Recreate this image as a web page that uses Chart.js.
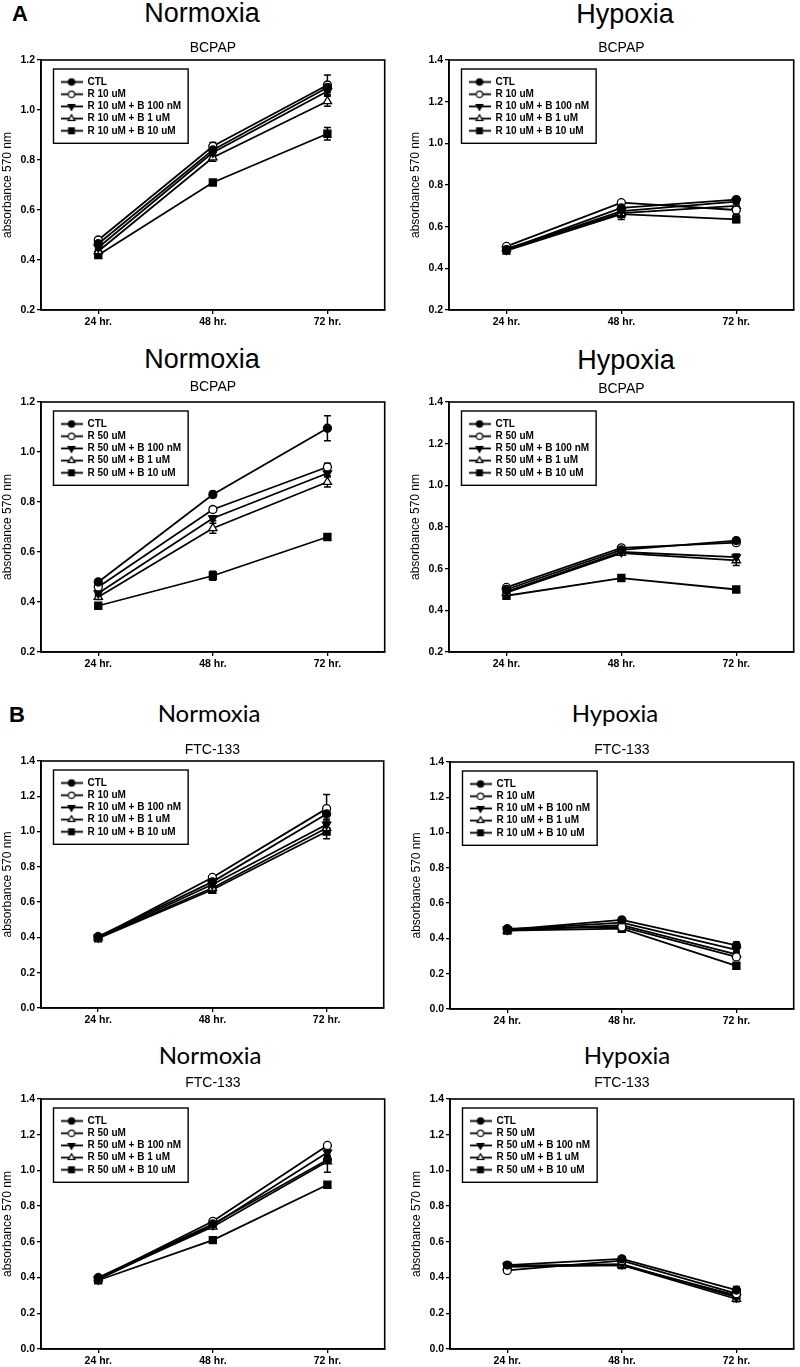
<!DOCTYPE html>
<html>
<head>
<meta charset="utf-8">
<script src="https://cdn.jsdelivr.net/npm/chart.js@4.4.1/dist/chart.umd.min.js"></script>
<style>
html,body{margin:0;padding:0;background:#fff;}
#page{position:relative;width:800px;height:1367px;overflow:hidden;background:#fff;}
#page canvas{position:absolute;}
.hdr{position:absolute;width:300px;text-align:center;line-height:1;white-space:nowrap;color:#000;}
.hdrA{font-family:'Liberation Sans',Arial,sans-serif;font-size:27px;}
.hdrB{font-family:Lato,'Open Sans',sans-serif;font-size:24px;}
.lab{position:absolute;line-height:1;font-weight:bold;font-size:22px;font-family:'Liberation Sans',Arial,sans-serif;color:#000;}
</style>
</head>
<body>
<div id="page"></div>
<script>
// ---------------- DATA ----------------
const timePoints = ['24 hr.', '48 hr.', '72 hr.'];
const seriesR10 = ['CTL', 'R 10 uM', 'R 10 uM + B 100 nM', 'R 10 uM + B 1 uM', 'R 10 uM + B 10 uM'];
const seriesR50 = ['CTL', 'R 50 uM', 'R 50 uM + B 100 nM', 'R 50 uM + B 1 uM', 'R 50 uM + B 10 uM'];
const yAxisTitle = 'absorbance 570 nm';

const yRangeBcpapNorm = [0.2, 1.2];
const yRangeBcpapHypo = [0.2, 1.4];
const yRangeFtc = [0.0, 1.4];
const yStep = 0.2;

// BCPAP, normoxia, R 10 uM (rows: series, cols: time points)
const bcpapNormR10 = [
  [0.465, 0.84, 1.09],
  [0.48, 0.855, 1.10],
  [0.45, 0.83, 1.075],
  [0.435, 0.81, 1.035],
  [0.42, 0.71, 0.905]
];
const bcpapNormR10Err = [
  [0.01, 0.01, 0.02],
  [0.01, 0.015, 0.04],
  [0.01, 0.01, 0.015],
  [0.01, 0.015, 0.02],
  [0.01, 0.01, 0.025]
];
// BCPAP, hypoxia, R 10 uM
const bcpapHypoR10 = [
  [0.49, 0.69, 0.73],
  [0.505, 0.715, 0.68],
  [0.49, 0.675, 0.72],
  [0.495, 0.665, 0.70],
  [0.485, 0.66, 0.635]
];
const bcpapHypoR10Err = [
  [0.01, 0.01, 0.01],
  [0.01, 0.01, 0.02],
  [0.01, 0.01, 0.01],
  [0.01, 0.02, 0.015],
  [0.01, 0.025, 0.015]
];
// BCPAP, normoxia, R 50 uM
const bcpapNormR50 = [
  [0.48, 0.83, 1.095],
  [0.46, 0.77, 0.94],
  [0.435, 0.735, 0.915],
  [0.42, 0.695, 0.88],
  [0.385, 0.505, 0.66]
];
const bcpapNormR50Err = [
  [0.01, 0.012, 0.05],
  [0.01, 0.01, 0.015],
  [0.01, 0.01, 0.01],
  [0.01, 0.02, 0.02],
  [0.01, 0.018, 0.008]
];
// BCPAP, hypoxia, R 50 uM
const bcpapHypoR50 = [
  [0.50, 0.69, 0.735],
  [0.51, 0.70, 0.725],
  [0.49, 0.68, 0.655],
  [0.485, 0.675, 0.64],
  [0.47, 0.555, 0.50]
];
const bcpapHypoR50Err = [
  [0.01, 0.01, 0.01],
  [0.01, 0.01, 0.01],
  [0.01, 0.01, 0.015],
  [0.01, 0.01, 0.025],
  [0.01, 0.01, 0.008]
];
// FTC-133, normoxia, R 10 uM
const ftcNormR10 = [
  [0.405, 0.715, 1.10],
  [0.40, 0.74, 1.13],
  [0.40, 0.70, 1.04],
  [0.40, 0.68, 1.02],
  [0.395, 0.67, 1.00]
];
const ftcNormR10Err = [
  [0.01, 0.01, 0.03],
  [0.01, 0.01, 0.08],
  [0.01, 0.01, 0.02],
  [0.01, 0.03, 0.03],
  [0.01, 0.02, 0.04]
];
// FTC-133, hypoxia, R 10 uM
const ftcHypoR10 = [
  [0.45, 0.505, 0.36],
  [0.455, 0.465, 0.295],
  [0.45, 0.49, 0.335],
  [0.445, 0.475, 0.31],
  [0.445, 0.455, 0.245]
];
const ftcHypoR10Err = [
  [0.01, 0.01, 0.02],
  [0.01, 0.01, 0.015],
  [0.01, 0.01, 0.015],
  [0.01, 0.01, 0.015],
  [0.01, 0.01, 0.015]
];
// FTC-133, normoxia, R 50 uM
const ftcNormR50 = [
  [0.40, 0.70, 1.06],
  [0.395, 0.715, 1.14],
  [0.39, 0.695, 1.10],
  [0.395, 0.685, 1.05],
  [0.385, 0.61, 0.92]
];
const ftcNormR50Err = [
  [0.01, 0.01, 0.02],
  [0.01, 0.01, 0.01],
  [0.01, 0.01, 0.015],
  [0.01, 0.01, 0.06],
  [0.01, 0.01, 0.01]
];
// FTC-133, hypoxia, R 50 uM
const ftcHypoR50 = [
  [0.47, 0.505, 0.33],
  [0.44, 0.495, 0.31],
  [0.465, 0.475, 0.29],
  [0.46, 0.47, 0.28],
  [0.465, 0.47, 0.30]
];
const ftcHypoR50Err = [
  [0.01, 0.01, 0.02],
  [0.01, 0.01, 0.015],
  [0.01, 0.01, 0.015],
  [0.01, 0.01, 0.015],
  [0.01, 0.01, 0.015]
];

// ---------------- LAYOUT / STYLE ----------------
Chart.defaults.font.family = "'Liberation Sans', Arial, Helvetica, sans-serif";
Chart.defaults.color = '#000';

const page = document.getElementById('page');

const SHAPES = [
  {pointStyle: 'circle', rotation: 0, fill: '#000', r: 4.0},
  {pointStyle: 'circle', rotation: 0, fill: '#fff', r: 4.0},
  {pointStyle: 'triangle', rotation: 180, fill: '#000', r: 4.8},
  {pointStyle: 'triangle', rotation: 0, fill: '#fff', r: 4.8},
  {pointStyle: 'rect', rotation: 0, fill: '#000', r: 5.0}
];

const SYM_W = 22;
function makeSymbol(s) {
  const c = document.createElement('canvas');
  c.width = SYM_W; c.height = 11;
  const g = c.getContext('2d');
  g.strokeStyle = '#000'; g.lineWidth = 1.8;
  g.beginPath(); g.moveTo(0, 5.5); g.lineTo(SYM_W, 5.5); g.stroke();
  g.fillStyle = s.fill; g.lineWidth = 1.2;
  Chart.helpers.drawPoint(g, {pointStyle: s.pointStyle, rotation: s.rotation, radius: s.r * 0.8, borderWidth: 1.2}, SYM_W / 2, 5.5);
  return c;
}
const legendSymbols = SHAPES.map(makeSymbol);

const LEG = {boxDx: 12.5, boxDy: 9, symDx: 19.5, firstDy: 22, font: 10, pad: 2.2};

const errorBars = {
  id: 'errorBars',
  beforeDatasetsDraw(chart) {
    const ctx = chart.ctx, ys = chart.scales.y;
    chart.data.datasets.forEach((ds, di) => {
      const meta = chart.getDatasetMeta(di);
      (ds.errors || []).forEach((e, i) => {
        const pt = meta.data[i];
        if (!pt || !e) return;
        const v = ds.data[i];
        const y1 = ys.getPixelForValue(v + e), y2 = ys.getPixelForValue(v - e);
        ctx.save();
        ctx.strokeStyle = '#000'; ctx.lineWidth = 1.5;
        ctx.beginPath();
        ctx.moveTo(pt.x, y1); ctx.lineTo(pt.x, y2);
        ctx.moveTo(pt.x - 3.5, y1); ctx.lineTo(pt.x + 3.5, y1);
        ctx.moveTo(pt.x - 3.5, y2); ctx.lineTo(pt.x + 3.5, y2);
        ctx.stroke();
        ctx.restore();
      });
    });
  }
};

const frameAndLegend = {
  id: 'frameAndLegend',
  afterLayout(chart) {
    const lg = chart.legend, ca = chart.chartArea;
    if (!lg) return;
    lg.left = ca.left + LEG.symDx - LEG.pad;
    lg.top = ca.top + LEG.firstDy - LEG.font / 2 - LEG.pad;
    lg.right = ca.right; lg.bottom = ca.bottom;
    lg.width = lg.right - lg.left; lg.height = lg.bottom - lg.top;
  },
  beforeDatasetsDraw(chart) {
    const ctx = chart.ctx, ca = chart.chartArea;
    ctx.save();
    ctx.strokeStyle = '#000';
    ctx.lineWidth = 1.6;
    ctx.strokeRect(ca.left, ca.top, ca.right - ca.left, ca.bottom - ca.top);
    ctx.font = 'bold ' + LEG.font + "px 'Liberation Sans', Arial, sans-serif";
    const maxW = Math.max(...chart.data.datasets.map(d => ctx.measureText(d.label).width));
    const n = chart.data.datasets.length;
    const left = ca.left + LEG.boxDx, top = ca.top + LEG.boxDy;
    const right = ca.left + LEG.symDx + SYM_W + LEG.font / 2 + maxW + 7;
    const bottom = ca.top + LEG.firstDy + (n - 1) * (LEG.font + LEG.pad) + 12.5;
    ctx.lineWidth = 1.4;
    ctx.strokeRect(left, top, right - left, bottom - top);
    ctx.restore();
  }
};

const panels = [
  {values: bcpapNormR10, errors: bcpapNormR10Err, names: seriesR10, cell: 'BCPAP', range: yRangeBcpapNorm, L: 41, R: 388, T: 60, B: 310, sub: 48.3},
  {values: bcpapHypoR10, errors: bcpapHypoR10Err, names: seriesR10, cell: 'BCPAP', range: yRangeBcpapHypo, L: 449, R: 797, T: 60, B: 310, sub: 48.5},
  {values: bcpapNormR50, errors: bcpapNormR50Err, names: seriesR50, cell: 'BCPAP', range: yRangeBcpapNorm, L: 41, R: 388, T: 402, B: 652, sub: 387},
  {values: bcpapHypoR50, errors: bcpapHypoR50Err, names: seriesR50, cell: 'BCPAP', range: yRangeBcpapHypo, L: 449, R: 797, T: 402, B: 652, sub: 389},
  {values: ftcNormR10, errors: ftcNormR10Err, names: seriesR10, cell: 'FTC-133', range: yRangeFtc, L: 41, R: 387, T: 761, B: 1008, sub: 750},
  {values: ftcHypoR10, errors: ftcHypoR10Err, names: seriesR10, cell: 'FTC-133', range: yRangeFtc, L: 450, R: 797, T: 762, B: 1009, sub: 750},
  {values: ftcNormR50, errors: ftcNormR50Err, names: seriesR50, cell: 'FTC-133', range: yRangeFtc, L: 41, R: 388, T: 1099, B: 1349, sub: 1083},
  {values: ftcHypoR50, errors: ftcHypoR50Err, names: seriesR50, cell: 'FTC-133', range: yRangeFtc, L: 450, R: 797, T: 1099, B: 1349, sub: 1083}
];

const headers = [
  {text: 'Normoxia', cls: 'hdrA', cx: 202, cy: 13},
  {text: 'Hypoxia', cls: 'hdrA', cx: 625, cy: 14},
  {text: 'Normoxia', cls: 'hdrA', cx: 202, cy: 359},
  {text: 'Hypoxia', cls: 'hdrA', cx: 626, cy: 360},
  {text: 'Normoxia', cls: 'hdrB', cx: 209, cy: 714},
  {text: 'Hypoxia', cls: 'hdrB', cx: 615, cy: 714},
  {text: 'Normoxia', cls: 'hdrB', cx: 210, cy: 1056},
  {text: 'Hypoxia', cls: 'hdrB', cx: 627, cy: 1056}
];
const letters = [
  {text: 'A', x: 12, cy: 14},
  {text: 'B', x: 9, cy: 715}
];

headers.forEach(h => {
  const d = document.createElement('div');
  d.className = 'hdr ' + h.cls;
  d.textContent = h.text;
  const size = h.cls === 'hdrA' ? 27 : 24;
  const k = h.cls === 'hdrA' ? 0.49 : 0.53;
  d.style.left = (h.cx - 150) + 'px';
  d.style.top = (h.cy - k * size) + 'px';
  page.appendChild(d);
});
letters.forEach(l => {
  const d = document.createElement('div');
  d.className = 'lab';
  d.textContent = l.text;
  d.style.left = l.x + 'px';
  d.style.top = (l.cy - 0.49 * 22) + 'px';
  page.appendChild(d);
});

const Y_AXIS_W = 41, X_AXIS_H = 18, SUB_SIZE = 14, PAD_R = 3;

panels.forEach(p => {
  const cl = p.L - Y_AXIS_W, ct = p.T - 42;
  const cw = p.R - cl + PAD_R, ch = p.B + X_AXIS_H - ct;
  const cv = document.createElement('canvas');
  cv.width = cw; cv.height = ch;
  cv.style.left = cl + 'px'; cv.style.top = ct + 'px';
  cv.style.width = cw + 'px'; cv.style.height = ch + 'px';
  page.appendChild(cv);

  new Chart(cv, {
    type: 'line',
    data: {
      labels: timePoints,
      datasets: p.values.map((row, i) => ({
        label: p.names[i],
        data: row,
        errors: p.errors[i],
        borderColor: '#000',
        borderWidth: 1.8,
        pointStyle: SHAPES[i].pointStyle,
        rotation: SHAPES[i].rotation,
        pointRadius: SHAPES[i].r,
        pointHoverRadius: SHAPES[i].r,
        pointBackgroundColor: SHAPES[i].fill,
        pointBorderColor: '#000',
        pointBorderWidth: 1.3,
        fill: false,
        tension: 0
      }))
    },
    options: {
      responsive: false,
      animation: false,
      devicePixelRatio: 1,
      events: [],
      layout: {padding: {left: 0, right: PAD_R, top: 0, bottom: 0}},
      plugins: {
        tooltip: {enabled: false},
        title: {
          display: true,
          text: p.cell,
          fullSize: false,
          color: '#000',
          font: {size: SUB_SIZE, weight: 'normal', lineHeight: 1},
          padding: {top: p.sub - ct - SUB_SIZE / 2, bottom: p.T - p.sub - SUB_SIZE / 2}
        },
        legend: {
          position: 'chartArea',
          align: 'start',
          labels: {
            usePointStyle: true,
            pointStyleWidth: SYM_W,
            padding: LEG.pad,
            color: '#000',
            font: {size: LEG.font, weight: 'bold'},
            generateLabels: chart => chart.data.datasets.map((ds, i) => ({
              text: ds.label,
              pointStyle: legendSymbols[i],
              rotation: 0,
              fillStyle: '#000',
              strokeStyle: '#000',
              lineWidth: 0,
              hidden: false,
              datasetIndex: i,
              fontColor: '#000'
            }))
          }
        }
      },
      scales: {
        x: {
          type: 'category',
          offset: true,
          grid: {display: true, drawOnChartArea: false, drawTicks: true, tickLength: 4, color: '#000', lineWidth: 1.3},
          border: {display: true, color: '#000', width: 1.6},
          ticks: {color: '#000', font: {size: 10.5, weight: 'bold'}, padding: 2, maxRotation: 0, autoSkip: false},
          afterFit: s => { s.height = X_AXIS_H; }
        },
        y: {
          type: 'linear',
          min: p.range[0],
          max: p.range[1],
          grid: {display: true, drawOnChartArea: false, drawTicks: true, tickLength: 4, color: '#000', lineWidth: 1.3},
          border: {display: true, color: '#000', width: 1.6},
          ticks: {stepSize: yStep, color: '#000', font: {size: 10.5, weight: 'bold'}, padding: 2, callback: v => Number(v).toFixed(1)},
          title: {display: true, text: yAxisTitle, color: '#000', font: {size: 12, weight: 'normal'}, padding: {top: 0.5, bottom: 0}},
          afterFit: s => { s.width = Y_AXIS_W; }
        }
      }
    },
    plugins: [errorBars, frameAndLegend]
  });
});
</script>
</body>
</html>
